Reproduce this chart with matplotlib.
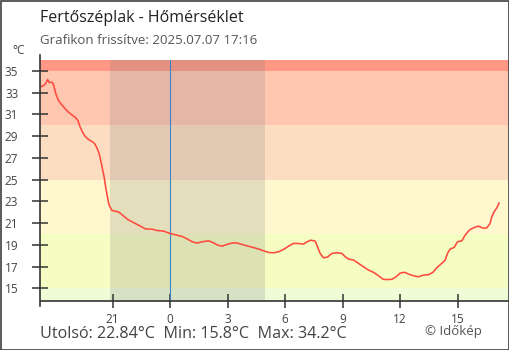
import matplotlib
matplotlib.use("Agg")
import matplotlib.pyplot as plt
from matplotlib.lines import Line2D

plt.rcParams['font.family'] = ['Open Sans', 'DejaVu Sans']

# hours relative to midnight (negative = previous evening)
hours = [-6.72, -6.60, -6.48, -6.39, -6.31, -6.13, -6.07, -5.96, -5.82, -5.65,
         -5.47, -5.30, -5.13, -4.95, -4.81, -4.69, -4.57, -4.43, -4.26, -4.09,
         -3.96, -3.82, -3.70, -3.62, -3.53, -3.44, -3.36, -3.27, -3.18, -3.04,
         -2.87, -2.69, -2.43, -2.21, -1.81, -1.55, -1.29, -0.94, -0.68, -0.33,
         -0.02, 0.28, 0.63, 0.89, 1.15, 1.41, 1.67, 2.01, 2.27, 2.48,
         2.71, 2.97, 3.23, 3.45, 3.75, 4.01, 4.33, 4.62, 4.88, 5.14,
         5.40, 5.66, 5.92, 6.18, 6.44, 6.70, 6.96, 7.14, 7.35, 7.57,
         7.69, 7.83, 8.00, 8.21, 8.44, 8.70, 8.96, 9.14, 9.31, 9.57,
         9.83, 10.09, 10.35, 10.61, 10.87, 11.10, 11.27, 11.57, 11.79, 12.00,
         12.23, 12.49, 12.69, 12.95, 13.22, 13.48, 13.71, 13.91, 14.17, 14.35,
         14.47, 14.61, 14.82, 14.99, 15.22, 15.39, 15.61, 15.82, 16.08, 16.34,
         16.52, 16.69, 16.78, 16.90, 17.04, 17.16]
temps = [33.56, 33.65, 33.86, 34.2, 33.95, 33.93, 33.65, 32.89, 32.28, 31.88,
         31.51, 31.20, 30.96, 30.74, 30.44, 29.83, 29.37, 28.97, 28.70, 28.51,
         28.36, 27.94, 27.39, 26.77, 26.01, 25.24, 24.32, 23.40, 22.64, 22.18,
         22.09, 22.03, 21.66, 21.33, 20.96, 20.72, 20.47, 20.44, 20.32, 20.26,
         20.05, 19.92, 19.77, 19.55, 19.28, 19.16, 19.28, 19.37, 19.18, 18.97,
         18.88, 19.04, 19.16, 19.18, 19.04, 18.91, 18.76, 18.61, 18.45, 18.30,
         18.27, 18.36, 18.58, 18.88, 19.13, 19.13, 19.06, 19.28, 19.43, 19.34,
         18.82, 18.21, 17.81, 17.87, 18.21, 18.27, 18.21, 17.90, 17.69, 17.60,
         17.29, 16.98, 16.68, 16.47, 16.16, 15.85, 15.8, 15.83, 16.06, 16.40,
         16.47, 16.28, 16.16, 16.06, 16.22, 16.25, 16.47, 16.89, 17.29, 17.60,
         18.21, 18.61, 18.76, 19.28, 19.37, 19.89, 20.35, 20.56, 20.72, 20.53,
         20.56, 20.96, 21.57, 22.03, 22.39, 22.84]

x_ticks = [-3, 0, 3, 6, 9, 12, 15]
x_labels = ['21', '0', '3', '6', '9', '12', '15']
y_ticks = [15, 17, 19, 21, 23, 25, 27, 29, 31, 33, 35]

band_edges = [13.0, 15, 20, 25, 30, 35, 37]
band_colors = ['#eefdd6', '#f5fdc2', '#fff7ce', '#fcddc2', '#ffc6b0', '#ff9784']

night_start, night_end = -3.16, 4.97
x_min, x_max = -6.76, 17.68
y_min, y_max = 13.88, 36.0

W, H = 510, 350
fig = plt.figure(figsize=(W / 100, H / 100), dpi=100)
fig.patch.set_facecolor('white')

L, R, T, B = 40.5, 509, 60, 300.5
ax = fig.add_axes([L / W, 1 - B / H, (R - L) / W, (B - T) / H])

for lo, hi, c in zip(band_edges[:-1], band_edges[1:], band_colors):
    ax.axhspan(lo, hi, color=c, lw=0, zorder=0)
ax.axvspan(night_start, night_end, color='#7a7a7a', alpha=0.2, lw=0, zorder=1)
ax.axvline(0, color='#3d85c6', lw=0.8, zorder=2)
ax.plot(hours, temps, color='#ff4a3d', lw=1.15, zorder=3)

ax.set_xlim(x_min, x_max)
ax.set_ylim(y_min, y_max)
ax.set_xticks(x_ticks)
ax.set_xticklabels(x_labels)
ax.set_yticks(y_ticks)

for s in ['top', 'right', 'left']:
    ax.spines[s].set_visible(False)
ax.spines['bottom'].set_color('#333333')
ax.spines['bottom'].set_linewidth(1.2)
ax.tick_params(axis='x', direction='inout', length=10, width=1.1, color='#333333',
               labelsize=8.5, labelcolor='#444444', pad=4)
ax.tick_params(axis='y', direction='inout', length=12, width=1.1, color='#333333',
               labelsize=8.5, labelcolor='#444444', pad=10)

# left spine extending beyond plot area
fig.add_artist(Line2D([L / W, L / W], [1 - 306 / H, 1 - 55 / H],
                      color='#333333', lw=1.2, transform=fig.transFigure))

# figure border
fig.add_artist(plt.Rectangle((0.5 / W, 0.5 / H), 1 - 1.5 / W, 1 - 1.5 / H,
                             fill=False, ec='#404040', lw=1.2,
                             transform=fig.transFigure))

fig.text(40 / W, 1 - 18.5 / H, 'Fertőszéplak - Hőmérséklet', fontsize=11.5,
         color='#222222', va='center', ha='left')
fig.text(40 / W, 1 - 41 / H, 'Grafikon frissítve: 2025.07.07 17:16', fontsize=9.5,
         color='#555555', va='center', ha='left')
fig.text(19 / W, 1 - 51 / H, '°C', fontsize=8.5, color='#444444',
         va='center', ha='center')
fig.text(40 / W, 1 - 333.5 / H, 'Utolsó: 22.84°C  Min: 15.8°C  Max: 34.2°C',
         fontsize=11.6, color='#444444', va='center', ha='left')
fig.text(482 / W, 1 - 332 / H, '© Időkép', fontsize=9.5, color='#555555',
         va='center', ha='right')

fig.savefig('out.png', dpi=100)
